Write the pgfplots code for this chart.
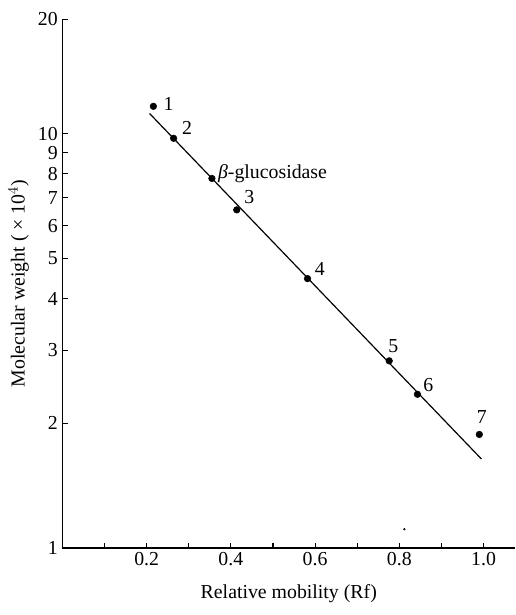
\documentclass[border=0pt]{standalone}
\usepackage{pgfplots}
\pgfplotsset{compat=1.18}
\usepackage{fontspec}
\setmainfont{Liberation Serif}
\begin{document}
\begin{tikzpicture}
\begin{axis}[
  scale only axis,
  width=342.75pt, height=400.5pt,
  y coord trafo/.code={\pgfmathparse{log10(#1) < 1 ? log10(#1) : 1 + 0.92*(log10(#1)-1)}},
  y coord inv trafo/.code={\pgfmathparse{#1 < 1 ? 10^(#1) : 10^(1 + (#1-1)/0.92)}},
  xmin=0, xmax=1.075,
  ymin=1, ymax=20,
  axis x line=bottom, axis y line=left,
  axis line style={-, line width=1pt},
  tick align=inside,
  xtick={0.2,0.4,0.6,0.8,1.0},
  xticklabels={0.2,0.4,0.6,0.8,1.0},
  minor xtick={0.1,0.3,0.5,0.7,0.9},
  ytick={1,2,3,4,5,6,7,8,9,10,20},
  yticklabels={1,2,3,4,5,6,7,8,9,10,20},
  minor ytick={},
  major tick length=4pt, minor tick length=3.5pt,
  xtick style={line width=0.8pt, black},
  ytick style={line width=0.7pt, black},
  /pgf/number format/assume math mode=true,
  ticklabel style={font=\fontsize{15}{17}\selectfont},
  label style={font=\fontsize{15}{17}\selectfont},
  xlabel={Relative mobility (Rf)},
  ylabel={Molecular weight ( × 10$^4$)},
  xlabel style={yshift=-7pt},
  ylabel style={yshift=0pt},
  clip=false,
]
\addplot[only marks, mark=*, mark size=2.5pt, black] coordinates {
  (0.216,11.8) (0.264,9.75) (0.355,7.8) (0.414,6.55) (0.582,4.47)
  (0.776,2.83) (0.843,2.35) (0.99,1.88)
};
\addplot[only marks, mark=*, mark size=0.6pt, black] coordinates {(0.812,1.11)};
\addplot[black, line width=0.9pt] coordinates {(0.207,11.3) (0.995,1.64)};
\begin{scope}[font=\fontsize{15}{17}\selectfont]
\node at (axis cs:0.252,12.0) {1};
\node at (axis cs:0.296,10.35) {2};
\node[anchor=west, inner sep=0pt] at (axis cs:0.369,8.0) {\textit{β}-glucosidase};
\node at (axis cs:0.444,7.05) {3};
\node at (axis cs:0.611,4.72) {4};
\node at (axis cs:0.786,3.08) {5};
\node at (axis cs:0.869,2.47) {6};
\node at (axis cs:0.996,2.07) {7};
\end{scope}
\end{axis}
\path ([xshift=-3pt]current bounding box.west) ([yshift=6pt]current bounding box.north) ([yshift=-6pt]current bounding box.south);
\end{tikzpicture}
\end{document}
